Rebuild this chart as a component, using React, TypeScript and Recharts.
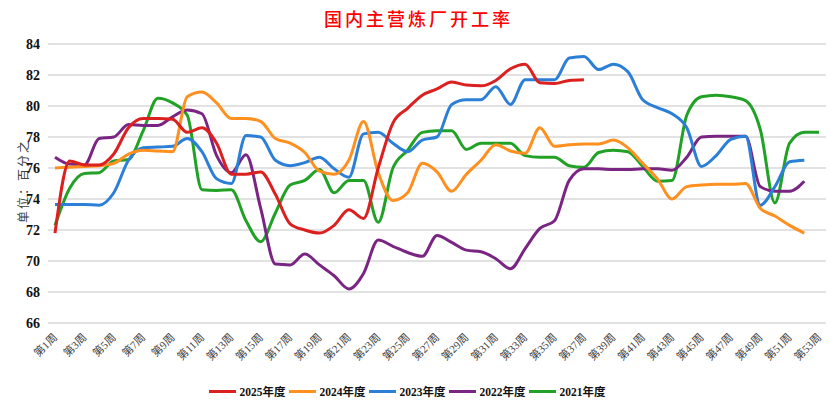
import { LineChart, Line, XAxis, YAxis, CartesianGrid, Legend } from "recharts";

const weeks = [
  "第1周", "第2周", "第3周", "第4周", "第5周", "第6周", "第7周", "第8周", "第9周", "第10周",
  "第11周", "第12周", "第13周", "第14周", "第15周", "第16周", "第17周", "第18周", "第19周", "第20周",
  "第21周", "第22周", "第23周", "第24周", "第25周", "第26周", "第27周", "第28周", "第29周", "第30周",
  "第31周", "第32周", "第33周", "第34周", "第35周", "第36周", "第37周", "第38周", "第39周", "第40周",
  "第41周", "第42周", "第43周", "第44周", "第45周", "第46周", "第47周", "第48周", "第49周", "第50周",
  "第51周", "第52周", "第53周",
];

const y2025 = [
  71.8, 76.45, 76.2, 76.2, 76.9, 78.6, 79.2, 79.2, 79.15, 78.3,
  78.6, 77.6, 75.6, 75.6, 75.75, 74.3, 72.4, 72.0, 71.8, 72.3,
  73.3, 72.75, 76.0, 78.9, 79.85, 80.7, 81.1, 81.55, 81.35, 81.3,
  81.65, 82.4, 82.7, 81.5, 81.45, 81.65, 81.7,
];
const y2024 = [
  76.0, 76.05, 76.1, 76.15, 76.3, 76.9, 77.15, 77.1, 77.05, 80.6,
  80.9, 80.2, 79.2, 79.2, 79.0, 77.9, 77.6, 77.0, 75.8, 75.6,
  76.5, 79.0, 75.7, 73.9, 74.4, 76.3, 75.75, 74.5, 75.6, 76.5,
  77.5, 77.1, 76.95, 78.6, 77.4, 77.5, 77.55, 77.55, 77.8, 77.3,
  76.3, 75.3, 74.0, 74.8, 74.9, 74.95, 74.95, 75.0, 73.4, 72.9,
  72.3, 71.8,
];
const y2023 = [
  73.65, 73.65, 73.65, 73.6, 74.4, 76.5, 77.3, 77.35, 77.4, 77.9,
  77.05, 75.3, 75.0, 78.1, 78.0, 76.5, 76.15, 76.35, 76.7, 75.95,
  75.4, 78.2, 78.3, 77.6, 77.05, 77.8, 78.0, 80.1, 80.4, 80.4,
  81.25, 80.1, 81.7, 81.7, 81.7, 83.1, 83.2, 82.35, 82.7, 82.2,
  80.4, 79.9, 79.5, 78.6, 76.1, 76.8, 77.85, 78.05, 73.6, 74.8,
  76.4, 76.5,
];
const y2022 = [
  76.7, 76.25, 76.2, 77.9, 78.0, 78.8, 78.75, 78.75, 79.3, 79.75,
  79.5, 76.8, 75.7, 76.85, 73.4, 69.8, 69.75, 70.45, 69.75, 69.05,
  68.2, 69.2, 71.35, 70.95, 70.55, 70.3, 71.65, 71.2, 70.7, 70.6,
  70.15, 69.5, 70.8, 72.1, 72.6, 75.2, 75.95, 75.95, 75.9, 75.9,
  75.95, 75.95, 75.85, 76.7, 78.0, 78.05, 78.05, 78.05, 74.8, 74.5,
  74.5, 75.15,
];
const y2021 = [
  72.3, 74.7, 75.65, 75.7, 76.45, 76.55, 78.4, 80.5, 80.2, 79.4,
  74.6, 74.55, 74.6, 72.6, 71.25, 73.1, 74.9, 75.2, 75.9, 74.4,
  75.2, 75.2, 72.5, 76.0, 77.15, 78.3, 78.4, 78.4, 77.2, 77.6,
  77.6, 77.6, 76.8, 76.7, 76.7, 76.15, 76.05, 77.0, 77.15, 77.05,
  76.1, 75.15, 75.2, 79.4, 80.6, 80.7, 80.6, 80.35, 78.5, 73.75,
  77.6, 78.3, 78.3,
];

const yTicks = [66, 68, 70, 72, 74, 76, 78, 80, 82, 84];

const series = [
  { key: "2025年度", color: "#dc1f1f", values: y2025 },
  { key: "2024年度", color: "#ff8f1f", values: y2024 },
  { key: "2023年度", color: "#2b7fd6", values: y2023 },
  { key: "2022年度", color: "#7a2583", values: y2022 },
  { key: "2021年度", color: "#21a226", values: y2021 },
];

const data = weeks.map((w, i) => {
  const row: Record<string, string | number | null> = { week: w };
  series.forEach((s) => {
    row[s.key] = i < s.values.length ? s.values[i] : null;
  });
  return row;
});

const serif = "'Liberation Serif', 'Noto Sans CJK SC', serif";

function WeekTick({ x, y, payload }: any) {
  const tx = x + 3;
  const ty = y + 7;
  return (
    <text
      x={tx}
      y={ty}
      transform={`rotate(-45 ${tx} ${ty})`}
      textAnchor="end"
      fontSize={11}
      fill="#404040"
      fontFamily={serif}
    >
      {payload.value}
    </text>
  );
}

function LegendRow() {
  return (
    <div
      style={{
        display: "flex",
        justifyContent: "center",
        alignItems: "center",
        height: 20,
        gap: 3,
        paddingRight: 12,
        marginTop: 2,
      }}
    >
      {series.map((s) => (
        <div key={s.key} style={{ display: "flex", alignItems: "center" }}>
          <div style={{ width: 27, height: 3, background: s.color, marginRight: 4 }} />
          <span
            style={{
              fontFamily: serif,
              fontWeight: "bold",
              fontSize: 11.5,
              color: "#111",
            }}
          >
            {s.key}
          </span>
        </div>
      ))}
    </div>
  );
}

export default function App() {
  return (
    <div
      style={{
        position: "absolute",
        left: 0,
        top: 0,
        width: 831,
        height: 403,
        background: "#fff",
      }}
    >
      <div
        style={{
          position: "absolute",
          top: 5,
          left: 0,
          width: 831,
          textAlign: "center",
          color: "#ff0000",
          fontSize: 18,
          fontWeight: 500,
          letterSpacing: 3,
          fontFamily: "'Noto Sans CJK SC', sans-serif",
          paddingLeft: 6,
          boxSizing: "border-box",
        }}
      >
        国内主营炼厂开工率
      </div>
      <div
        style={{
          position: "absolute",
          left: 22,
          top: 181,
          transform: "translate(-50%, -50%) rotate(-90deg)",
          whiteSpace: "nowrap",
          fontSize: 12,
          color: "#404040",
          fontFamily: "'Noto Sans CJK SC', sans-serif",
          letterSpacing: 2,
        }}
      >
        单位：百分之
      </div>
      <LineChart
        width={831}
        height={403}
        data={data}
        margin={{ top: 44, right: 5, left: 0, bottom: 4 }}
      >
        <CartesianGrid vertical={false} stroke="#d9d9d9" strokeWidth={1.5} />
        <XAxis
          dataKey="week"
          interval={1}
          padding={{ left: 7, right: 7 }}
          axisLine={false}
          tickLine={false}
          height={56}
          tick={<WeekTick />}
        />
        <YAxis
          domain={[66, 84]}
          ticks={yTicks}
          width={48}
          axisLine={false}
          tickLine={false}
          tick={{ fontSize: 14, fontWeight: "bold", fill: "#111", fontFamily: serif }}
        />
        <Legend verticalAlign="bottom" height={20} content={() => <LegendRow />} />
        {series
          .slice()
          .reverse()
          .map((s) => (
            <Line
              key={s.key}
              type="monotone"
              dataKey={s.key}
              stroke={s.color}
              strokeWidth={3}
              dot={false}
              activeDot={false}
              isAnimationActive={false}
            />
          ))}
      </LineChart>
    </div>
  );
}
